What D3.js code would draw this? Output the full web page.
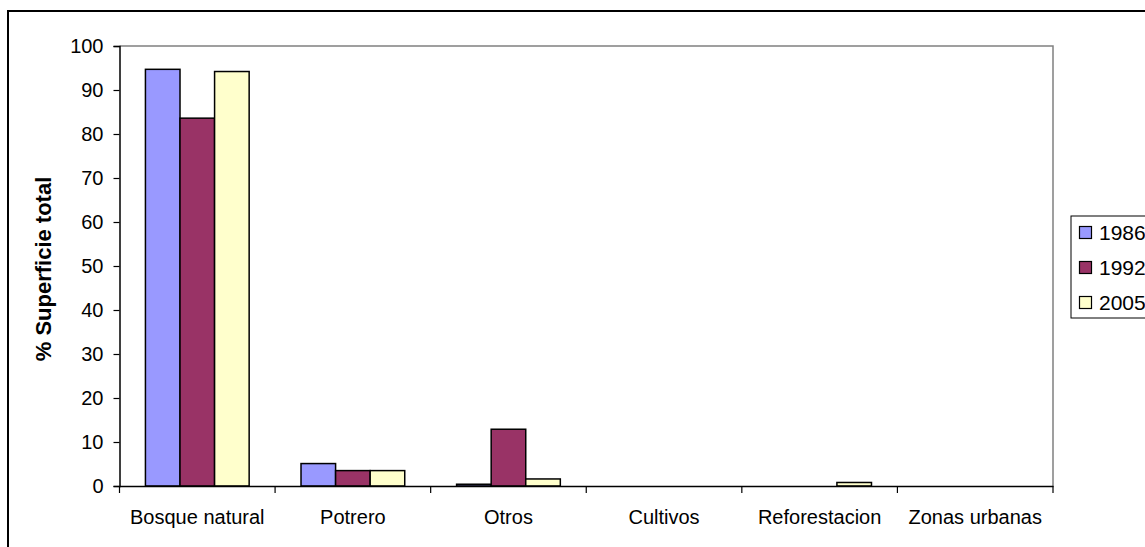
<!DOCTYPE html>
<html>
<head>
<meta charset="utf-8">
<script src="https://cdn.jsdelivr.net/npm/d3@7"></script>
<style>
  html, body { margin: 0; padding: 0; background: #fff; }
  svg { display: block; font-family: Arial, "Liberation Sans", sans-serif; }
</style>
</head>
<body>
<svg id="chart" width="1145" height="547"></svg>
<script>
// Land-cover categories and share of total area per survey year
const categories = ["Bosque natural", "Potrero", "Otros", "Cultivos", "Reforestacion", "Zonas urbanas"];
const years = ["1986", "1992", "2005"];
const values1986 = [94.7, 5.1, 0.4, 0, 0, 0];
const values1992 = [83.6, 3.5, 12.9, 0, 0, 0];
const values2005 = [94.2, 3.5, 1.6, 0, 0.8, 0];
const yTicks = [0, 10, 20, 30, 40, 50, 60, 70, 80, 90, 100];
const yLabel = "% Superficie total";

const seriesValues = [values1986, values1992, values2005];
const colors = ["#9999FF", "#993366", "#FFFFCC"];

const svg = d3.select("#chart");
const W = 1145, H = 547;

// Outer chart frame
svg.append("rect")
  .attr("x", 8).attr("y", 11)
  .attr("width", W + 20).attr("height", H + 20)
  .attr("fill", "#fff").attr("stroke", "#000").attr("stroke-width", 2);

const plot = { left: 119.5, right: 1053, top: 46, bottom: 486 };

const x = d3.scaleBand().domain(categories).range([plot.left, plot.right]).paddingInner(0).paddingOuter(0);
const xs = d3.scaleBand().domain(years).range([0, x.bandwidth()]).paddingInner(0).paddingOuter(0.75);
const y = d3.scaleLinear().domain([0, 100]).range([plot.bottom, plot.top]);

// Plot area border (top and right in grey)
svg.append("path")
  .attr("d", `M${plot.left},${plot.top}H${plot.right}V${plot.bottom}`)
  .attr("fill", "none").attr("stroke", "#808080").attr("stroke-width", 1.5);

// Bars
const rows = [];
categories.forEach((c, i) => {
  years.forEach((yr, j) => rows.push({ cat: c, year: yr, v: seriesValues[j][i], color: colors[j] }));
});
svg.append("g").selectAll("rect").data(rows).join("rect")
  .attr("x", d => x(d.cat) + xs(d.year))
  .attr("y", d => y(d.v))
  .attr("width", xs.bandwidth())
  .attr("height", d => y(0) - y(d.v))
  .attr("fill", d => d.color)
  .attr("stroke", "#000").attr("stroke-width", 1.5);

// Y axis
const yAxis = svg.append("g")
  .attr("transform", `translate(${plot.left},0)`)
  .call(d3.axisLeft(y).tickValues(yTicks).tickSize(6).tickPadding(10).tickFormat(d3.format("d")));
yAxis.select(".domain").attr("stroke", "#000").attr("stroke-width", 1.5);
yAxis.selectAll(".tick line").attr("stroke", "#000").attr("stroke-width", 1.2);
yAxis.selectAll("text").attr("font-size", 20).attr("fill", "#000")
  .attr("font-family", "Arial, 'Liberation Sans', sans-serif");

// X axis: labels centred in bands, ticks on band boundaries
const xAxis = svg.append("g")
  .attr("transform", `translate(0,${plot.bottom})`)
  .call(d3.axisBottom(x).tickSize(0).tickPadding(24));
xAxis.select(".domain").attr("stroke", "#000").attr("stroke-width", 1.5);
xAxis.selectAll("text").attr("font-size", 20).attr("fill", "#000")
  .attr("font-family", "Arial, 'Liberation Sans', sans-serif");

const boundaries = categories.map(c => x(c)).concat([x(categories[categories.length - 1]) + x.bandwidth()]);
svg.append("g").selectAll("line").data(boundaries).join("line")
  .attr("x1", d => d).attr("x2", d => d)
  .attr("y1", plot.bottom).attr("y2", plot.bottom + 7)
  .attr("stroke", "#000").attr("stroke-width", 1.2);

// Y axis title
svg.append("text")
  .attr("transform", `translate(51,${(plot.top + plot.bottom) / 2 + 3}) rotate(-90)`)
  .attr("text-anchor", "middle")
  .attr("font-size", 22).attr("font-weight", "bold")
  .text(yLabel);

// Legend
const leg = { x: 1071, y: 216, rowH: 35 };
svg.append("rect")
  .attr("x", leg.x).attr("y", leg.y)
  .attr("width", 120).attr("height", 102)
  .attr("fill", "#fff").attr("stroke", "#000").attr("stroke-width", 1);
const items = svg.append("g").selectAll("g").data(years).join("g")
  .attr("transform", (d, i) => `translate(${leg.x},${leg.y + 16 + i * leg.rowH})`);
items.append("rect")
  .attr("x", 8.5).attr("y", -5.5).attr("width", 12).attr("height", 12)
  .attr("fill", (d, i) => colors[i]).attr("stroke", "#000").attr("stroke-width", 1.2);
items.append("text")
  .attr("x", 28).attr("y", 7.5)
  .attr("font-size", 21)
  .text(d => d);
</script>
</body>
</html>
